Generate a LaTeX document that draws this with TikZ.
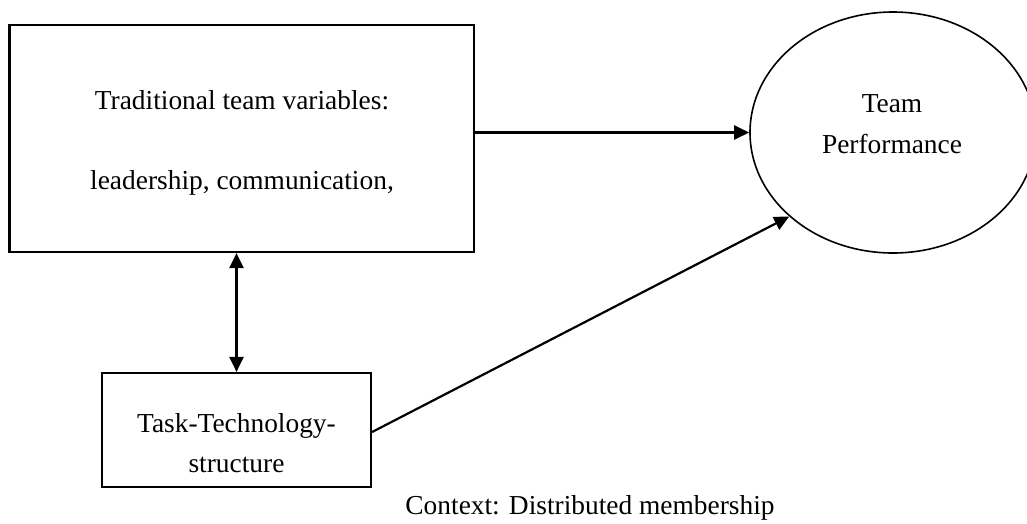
\documentclass[tikz,border=0pt]{standalone}
\usepackage{fontspec}
\setmainfont{Liberation Serif}
\usetikzlibrary{arrows.meta,shapes.geometric}
\begin{document}
\begin{tikzpicture}[x=1pt,y=-1pt,
  boxstyle/.style={draw, line width=2.2pt, rectangle, inner sep=0pt},
  ellstyle/.style={draw, line width=1.6pt, ellipse, inner sep=0pt},
  txt/.style={font=\fontsize{27.4}{41}\selectfont, align=center, inner sep=0pt},
  conn/.style={line width=2.2pt, -{Triangle[length=15pt,width=14pt]}},
  biconn/.style={line width=2.2pt, {Triangle[length=15pt,width=14pt]}-{Triangle[length=15pt,width=14pt]}}]
\useasboundingbox (0,0) rectangle (1027,523);
\begin{scope}
\clip (0,0) rectangle (1027,523);
\node[boxstyle, minimum width=464.5pt, minimum height=227pt] (top) at (241.75,138.5) {};
\node[txt] (t1) at (242,100) {Traditional team variables:};
\node[txt] (t2) at (242,183) {leadership, communication,};
\node[ellstyle, minimum width=286pt, minimum height=241pt] (ell) at (893,132.5) {};
\node[txt] (etxt) at (892,124) {Team\\Performance};
\node[boxstyle, minimum width=269pt, minimum height=114pt] (bot) at (236.5,430) {};
\node[txt, font=\fontsize{27.4}{40}\selectfont] (btxt) at (236.5,443) {Task-Technology-\\structure};
\node[txt] (ctx) at (590,508) {Context: Distributed membership};
\draw[conn] (top.east |- ell.west) -- (ell.west);
\draw[biconn] (bot.north |- top.south) -- (bot.north);
\draw[conn] ([yshift=-2pt]bot.east) -- (ell.219);
\end{scope}
\end{tikzpicture}
\end{document}
